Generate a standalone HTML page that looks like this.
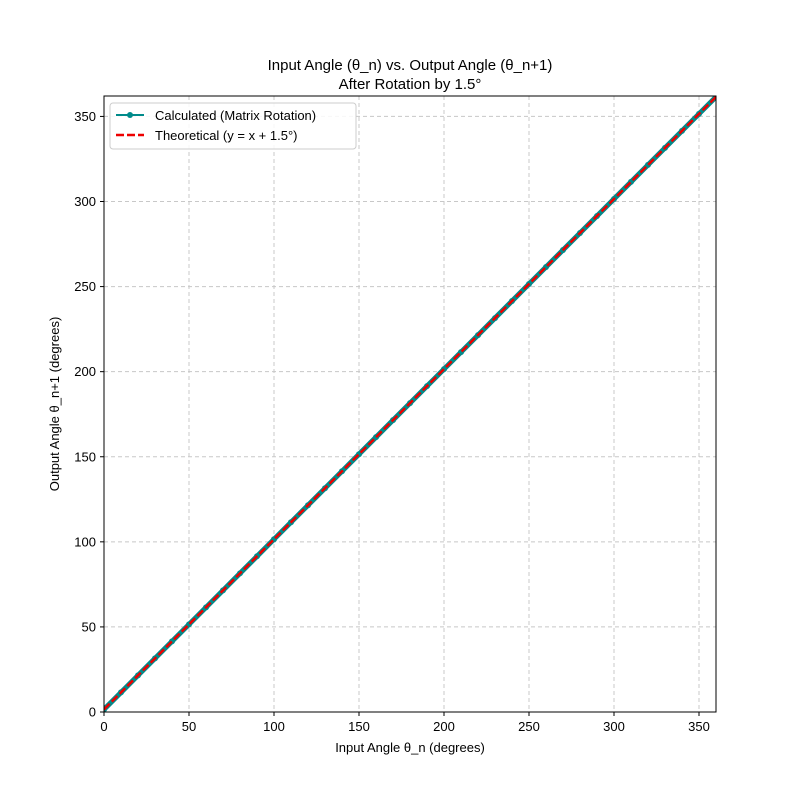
<!DOCTYPE html>
<html><head><meta charset="utf-8"><style>body{margin:0;background:#fff}svg text{font-family:"Liberation Sans","DejaVu Sans",sans-serif}</style></head>
<body>
<svg id="chart" width="800" height="800">
<rect width="800" height="800" fill="#fff"/>
<g id="grid"></g>
<g id="series"></g>
<rect x="104" y="96" width="612" height="616" fill="none" stroke="#000" stroke-width="1"/>
<g id="ticks"></g>
<text x="410" y="70" font-size="15" text-anchor="middle">Input Angle (θ_n) vs. Output Angle (θ_n+1)</text>
<text x="410" y="89" font-size="15" text-anchor="middle">After Rotation by 1.5°</text>
<text x="410" y="752" font-size="13" text-anchor="middle">Input Angle θ_n (degrees)</text>
<text x="59" y="404" font-size="13" text-anchor="middle" transform="rotate(-90 59 404)">Output Angle θ_n+1 (degrees)</text>
<g>
<rect x="110" y="103" width="246" height="46" rx="3" fill="#fff" fill-opacity="0.85" stroke="#ccc"/>
<line x1="116" y1="115" x2="144" y2="115" stroke="#008b8b" stroke-width="2"/>
<circle cx="130" cy="115" r="3" fill="#008b8b"/>
<text x="155" y="120" font-size="13">Calculated (Matrix Rotation)</text>
<line x1="116" y1="135" x2="144" y2="135" stroke="#e00" stroke-width="2.5" stroke-dasharray="8,3"/>
<text x="155" y="140" font-size="13">Theoretical (y = x + 1.5°)</text>
</g>
</svg>
<script>
const xTicks=[0,50,100,150,200,250,300,350];
const yTicks=[0,50,100,150,200,250,300,350];
const inputAngles=[0,10,20,30,40,50,60,70,80,90,100,110,120,130,140,150,160,170,180,190,200,210,220,230,240,250,260,270,280,290,300,310,320,330,340,350,360];
const outputAngles=[1.5,11.5,21.5,31.5,41.5,51.5,61.5,71.5,81.5,91.5,101.5,111.5,121.5,131.5,141.5,151.5,161.5,171.5,181.5,191.5,201.5,211.5,221.5,231.5,241.5,251.5,261.5,271.5,281.5,291.5,301.5,311.5,321.5,331.5,341.5,351.5,361.5];
const theoryX=[0,360];
const theoryY=[1.5,361.5];
const NS="http://www.w3.org/2000/svg";
const X0=104,X1=716,Y0=712,Y1=96,XMAX=360,YMAX=362;
const sx=v=>X0+(X1-X0)*v/XMAX, sy=v=>Y0-(Y0-Y1)*v/YMAX;
function mk(t,a,p){const e=document.createElementNS(NS,t);for(const k in a)e.setAttribute(k,a[k]);p.appendChild(e);return e;}
const grid=document.getElementById('grid'),ticks=document.getElementById('ticks'),ser=document.getElementById('series');
xTicks.forEach(v=>{const x=sx(v);
const g=mk('line',{x1:x,x2:x,y1:Y1,y2:Y0,stroke:'#c8c8c8','stroke-dasharray':'4,3'},grid);

const t=mk('line',{x1:x,x2:x,y1:Y0,y2:Y0+4,stroke:'#000'},ticks);

const l=mk('text',{x:x,y:Y0+19,'font-size':13,'text-anchor':'middle'},ticks);l.textContent=v;
});
yTicks.forEach(v=>{const y=sy(v);
const g=mk('line',{x1:X0,x2:X1,y1:y,y2:y,stroke:'#c8c8c8','stroke-dasharray':'4,3'},grid);

const t=mk('line',{x1:X0-4,x2:X0,y1:y,y2:y,stroke:'#000'},ticks);

const l=mk('text',{x:X0-8,y:y+4.5,'font-size':13,'text-anchor':'end'},ticks);l.textContent=v;
});
const clip=mk('clipPath',{id:'pc'},document.getElementById('chart'));mk('rect',{x:X0,y:Y1,width:X1-X0,height:Y0-Y1},clip);
const pts=inputAngles.map((v,i)=>sx(v)+','+sy(outputAngles[i])).join(' ');
const cl=mk('polyline',{points:pts,fill:'none',stroke:'#008b8b','stroke-width':5,'clip-path':'url(#pc)'},ser);

inputAngles.forEach((v,i)=>{const c=mk('circle',{cx:sx(v),cy:sy(outputAngles[i]),r:3,fill:'#008b8b','clip-path':'url(#pc)'},ser);
});
const th=mk('polyline',{points:theoryX.map((v,i)=>sx(v)+','+sy(theoryY[i])).join(' '),fill:'none',stroke:'#e00','stroke-width':2.5,'stroke-dasharray':'8,3','clip-path':'url(#pc)'},ser);

</script>
</body></html>
